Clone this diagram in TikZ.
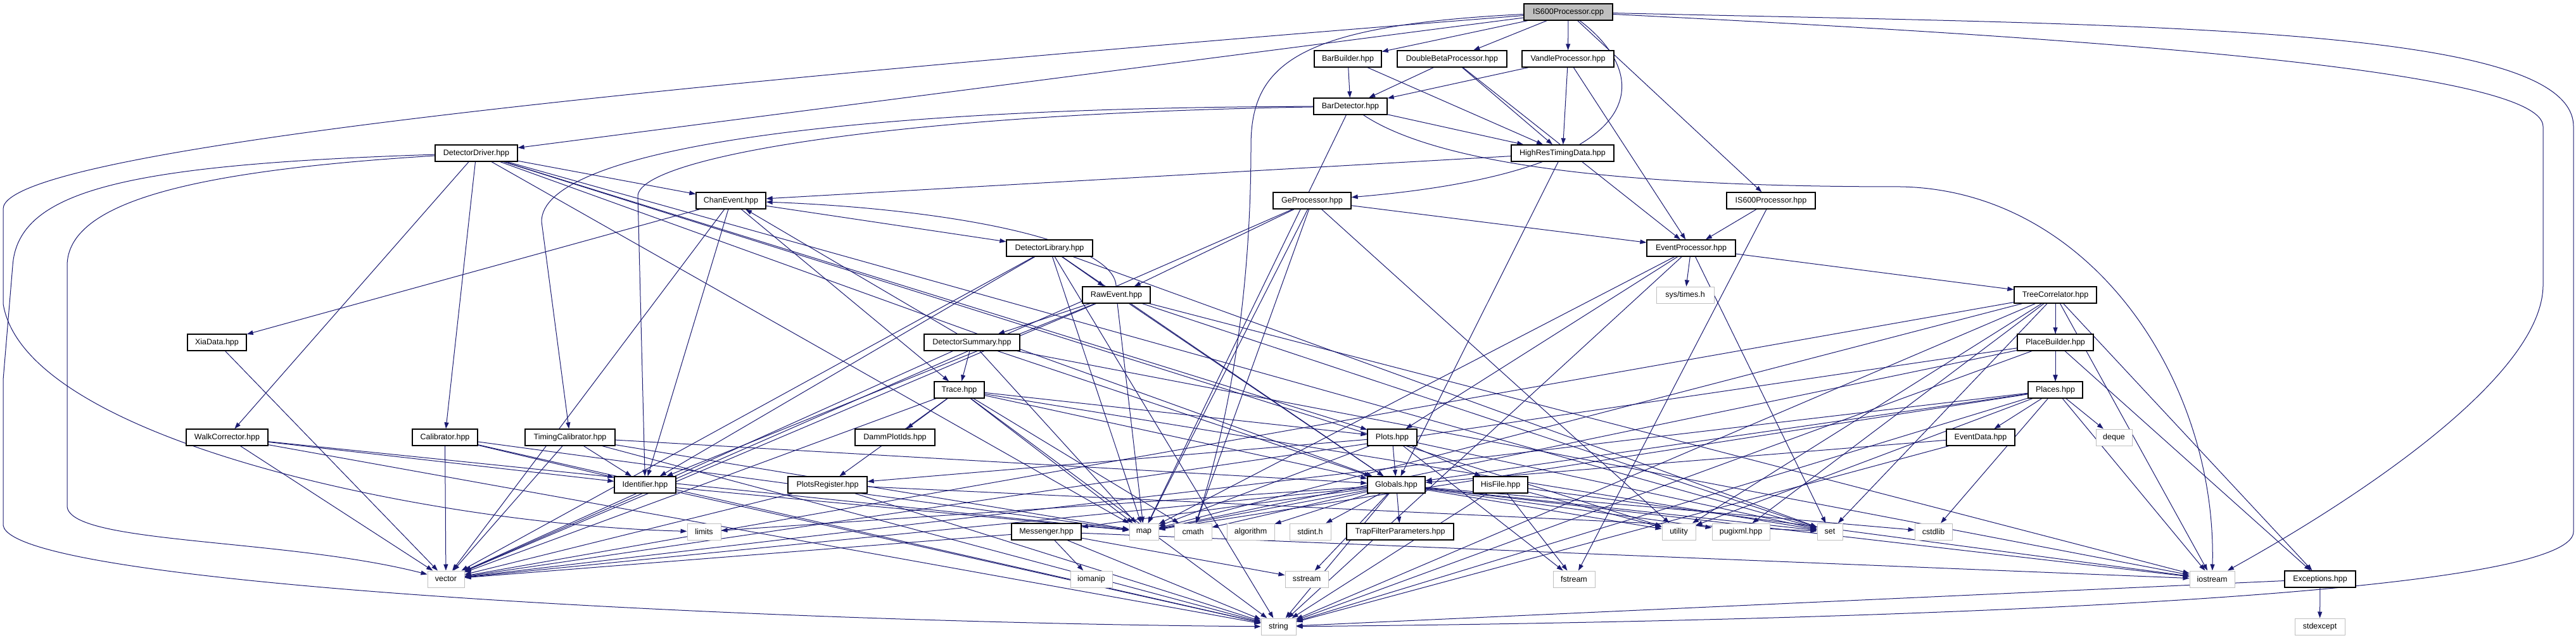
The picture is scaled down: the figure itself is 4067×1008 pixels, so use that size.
\documentclass[tikz,border=0pt]{standalone}
\usepackage{fontspec}
\setmainfont{Liberation Sans}
\usetikzlibrary{arrows.meta,backgrounds}
\definecolor{edgec}{HTML}{191970}
\definecolor{grayb}{HTML}{BFBFBF}
\begin{document}
\begin{tikzpicture}[x=1pt,y=-1pt,
  nd/.style={draw=black, line width=1.3pt, fill=white, minimum height=26pt, inner sep=0pt, font=\fontsize{12.5}{13}\selectfont},
  sysn/.style={nd, draw=grayb, line width=1pt},
  edg/.style={draw=edgec, line width=1pt, -{Triangle[length=10pt,width=7pt]}},
]
\useasboundingbox (0,0) rectangle (4067,1008);
% row 0
\node[nd, fill=grayb, minimum width=140pt] (cpp) at (2476,19) {IS600Processor.cpp};
% row 1
\node[nd, minimum width=106pt] (bb) at (2128,93) {BarBuilder.hpp};
\node[nd, minimum width=173pt] (dbp) at (2292.5,93) {DoubleBetaProcessor.hpp};
\node[nd, minimum width=145pt] (vp) at (2475.5,93) {VandleProcessor.hpp};
% row 2
\node[nd, minimum width=116pt] (bd) at (2132,168) {BarDetector.hpp};
% row 3
\node[nd, minimum width=130pt] (dd) at (752,242) {DetectorDriver.hpp};
\node[nd, minimum width=162pt] (hr) at (2467,242) {HighResTimingData.hpp};
% row 4
\node[nd, minimum width=110pt] (ce) at (1154,317) {ChanEvent.hpp};
\node[nd, minimum width=123pt] (gp) at (2071.5,317) {GeProcessor.hpp};
\node[nd, minimum width=140pt] (isp) at (2796,317) {IS600Processor.hpp};
% row 5
\node[nd, minimum width=136pt] (dl) at (1657,392) {DetectorLibrary.hpp};
\node[nd, minimum width=140pt] (ep) at (2670,392) {EventProcessor.hpp};
% row 6
\node[nd, minimum width=107pt] (re) at (1762.5,466) {RawEvent.hpp};
\node[sysn, minimum width=91pt] (st) at (2660.5,466) {sys/times.h};
\node[nd, minimum width=130pt] (tc) at (3245,466) {TreeCorrelator.hpp};
% row 7
\node[nd, minimum width=93pt] (xd) at (342.5,541) {XiaData.hpp};
\node[nd, minimum width=151pt] (ds) at (1534.5,541) {DetectorSummary.hpp};
\node[nd, minimum width=120pt] (pb) at (3245,541) {PlaceBuilder.hpp};
% row 8
\node[nd, minimum width=79pt] (tr) at (1514.5,616) {Trace.hpp};
\node[nd, minimum width=86pt] (pl) at (3245,616) {Places.hpp};
% row 9
\node[nd, minimum width=129pt] (wc) at (358.5,691) {WalkCorrector.hpp};
\node[nd, minimum width=103pt] (cal) at (702.5,691) {Calibrator.hpp};
\node[nd, minimum width=142pt] (tcal) at (900,691) {TimingCalibrator.hpp};
\node[nd, minimum width=126pt] (dpi) at (1413,691) {DammPlotIds.hpp};
\node[nd, minimum width=78pt] (plots) at (2198,691) {Plots.hpp};
\node[nd, minimum width=108pt] (evd) at (3127,691) {EventData.hpp};
\node[sysn, minimum width=57pt] (deq) at (3337.5,691) {deque};
% row 10
\node[nd, minimum width=97pt] (id) at (1018.5,766) {Identifier.hpp};
\node[nd, minimum width=125pt] (preg) at (1306.5,766) {PlotsRegister.hpp};
\node[nd, minimum width=91pt] (glob) at (2204.5,766) {Globals.hpp};
\node[nd, minimum width=86pt] (hf) at (2369,766) {HisFile.hpp};
% row 11
\node[sysn, minimum width=53pt] (lim) at (1111.5,840) {limits};
\node[nd, minimum width=110pt] (msg) at (1652,840) {Messenger.hpp};
\node[sysn, minimum width=46pt] (map) at (1806,840) {map};
\node[sysn, minimum width=59pt] (cmath) at (1883.5,840) {cmath};
\node[sysn, minimum width=75pt] (alg) at (1974.5,840) {algorithm};
\node[sysn, minimum width=65pt] (sint) at (2068.5,840) {stdint.h};
\node[nd, minimum width=169pt] (tfp) at (2210.5,840) {TrapFilterParameters.hpp};
\node[sysn, minimum width=53pt] (util) at (2650.5,840) {utility};
\node[sysn, minimum width=91pt] (pug) at (2748.5,840) {pugixml.hpp};
\node[sysn, minimum width=40pt] (set) at (2889,840) {set};
\node[sysn, minimum width=59pt] (cstd) at (3052.5,840) {cstdlib};
% row 12
\node[sysn, minimum width=58pt] (vec) at (704,915) {vector};
\node[sysn, minimum width=66pt] (iom) at (1723,915) {iomanip};
\node[sysn, minimum width=68pt] (sst) at (2063,915) {sstream};
\node[sysn, minimum width=66pt] (fst) at (2485,915) {fstream};
\node[sysn, minimum width=71pt] (ios) at (3492.5,915) {iostream};
\node[nd, minimum width=112pt] (exc) at (3663,915) {Exceptions.hpp};
% row 13
\node[sysn, minimum width=55pt] (str) at (2018.5,990) {string};
\node[sysn, minimum width=79pt] (sexc) at (3662.5,990) {stdexcept};

\begin{scope}[on background layer]
\foreach \s/\t in {cpp/bb, cpp/dbp, cpp/vp, cpp/dd, cpp/isp,
  bb/bd, bb/hr, dbp/bd, dbp/hr, dbp/ep, vp/bd, vp/hr, vp/ep,
  bd/hr, bd/map, hr/ce, hr/glob,
  dd/ce, dd/wc, dd/cal, dd/plots, dd/glob, dd/map, dd/set, dd/util,
  gp/ep, gp/re, gp/map, gp/cmath, gp/vec, gp/util,
  isp/ep, isp/fst,
  ep/st, ep/tc, ep/plots, ep/map, ep/set, ep/str,
  ce/xd, ce/vec, ce/dl, ce/id, ce/tr,
  dl/re, dl/id, dl/map, dl/vec, dl/set, dl/str, dl/glob,
  re/ds, re/id, re/map, re/vec, re/set, re/glob, re/ios,
  ds/ce, ds/tr, ds/vec, ds/map, ds/glob, ds/ios,
  tr/dpi, tr/preg, tr/plots, tr/glob, tr/map, tr/cmath, tr/vec, tr/str, tr/set,
  xd/vec, wc/id, wc/map, wc/vec, wc/str,
  cal/id, cal/map, cal/vec, cal/str,
  tcal/id, tcal/glob, tcal/map, tcal/vec, tcal/str,
  id/map, id/str, preg/set, preg/vec, preg/str,
  plots/preg, plots/glob, plots/hf, plots/fst, plots/set, plots/map,
  glob/lim, glob/map, glob/cmath, glob/alg, glob/sint, glob/tfp, glob/util, glob/pug, glob/set, glob/cstd, glob/sst, glob/str, glob/vec, glob/msg, glob/ios,
  hf/fst, hf/util, hf/ios, hf/str,
  msg/iom, msg/sst, msg/str, msg/vec, msg/ios,
  tc/pb, tc/pl, tc/exc, tc/ios, tc/str, tc/map, tc/vec, tc/set, tc/util, tc/pug,
  pb/pl, pb/exc, pb/str, pb/vec, pb/map,
  pl/evd, pl/deq, pl/cstd, pl/ios, pl/str, pl/vec, pl/map, pl/util, pl/glob,
  evd/str, evd/glob, exc/sexc, exc/str}
  \draw[edg] (\s) -- (\t);
% routed connectors
\draw[edg] (cpp) .. controls (2610,120) and (2620,270) .. (gp);
\draw[edg] (cpp) .. controls (2050,40) and (1975,100) .. (1975,230) .. controls (1975,500) and (1930,700) .. (cmath);
\draw[edg] (cpp) .. controls (3300,60) and (4015,110) .. (4015,200) -- (4015,450) .. controls (4015,600) and (3700,800) .. (ios);
\draw[edg] (cpp) .. controls (3400,40) and (4063,40) .. (4063,200) -- (4063,840) .. controls (4063,960) and (2600,985) .. (str);
\draw[edg] (cpp) .. controls (1200,120) and (5,230) .. (5,330) -- (5,480) .. controls (40,700) and (700,830) .. (lim);
\draw[edg] (dd) .. controls (200,260) and (28,300) .. (20,420) -- (5,600) -- (5,830) .. controls (20,930) and (1300,985) .. (str);
\draw[edg] (dd) .. controls (300,270) and (106,320) .. (106,420) -- (106,800) .. controls (110,860) and (450,850) .. (vec);
\draw[edg] (bd) .. controls (2300,280) and (2700,295) .. (3000,295) .. controls (3300,300) and (3500,600) .. (ios);
\draw[edg] (bd) .. controls (1300,170) and (855,240) .. (855,350) -- (tcal);
\draw[edg] (bd) .. controls (1400,180) and (1007,250) .. (1007,310) -- (id);
\draw[edg] (re) .. controls (1760,380) and (1500,330) .. (ce);
\end{scope}
\end{tikzpicture}
\end{document}
